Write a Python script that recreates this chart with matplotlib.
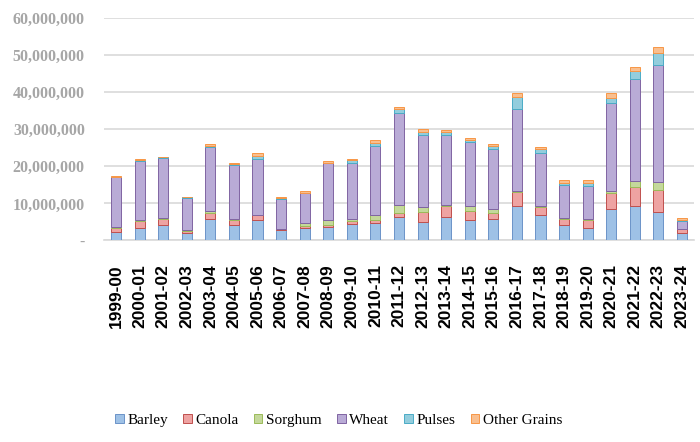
import numpy as np
import matplotlib
matplotlib.use("Agg")
import matplotlib.pyplot as plt
from matplotlib.ticker import FuncFormatter

years = ["1999-00", "2000-01", "2001-02", "2002-03", "2003-04", "2004-05",
         "2005-06", "2006-07", "2007-08", "2008-09", "2009-10", "2010-11",
         "2011-12", "2012-13", "2013-14", "2014-15", "2015-16", "2016-17",
         "2017-18", "2018-19", "2019-20", "2020-21", "2021-22", "2022-23",
         "2023-24"]

# values in millions of tonnes
barley = [2.3, 3.4, 4.1, 2.0, 5.9, 4.1, 5.5, 2.8, 3.4, 3.7, 4.4, 4.6, 6.4,
          5.0, 6.4, 5.5, 5.9, 9.3, 6.8, 4.3, 3.4, 8.6, 9.3, 7.7, 1.9]
canola = [1.1, 1.8, 1.6, 0.6, 1.4, 1.4, 1.3, 0.2, 0.5, 0.6, 0.8, 0.9, 1.0,
          2.7, 2.9, 2.5, 1.4, 3.8, 2.3, 1.6, 2.1, 4.1, 5.2, 5.9, 1.1]
sorghum = [0.2, 0.4, 0.3, 0.2, 0.7, 0.4, 0.2, 0.2, 0.9, 1.2, 0.6, 1.3, 2.1,
           1.4, 0.3, 1.3, 1.1, 0.2, 0.2, 0.1, 0.2, 0.6, 1.5, 2.2, 0.1]
wheat = [13.4, 15.9, 16.3, 8.7, 17.2, 14.4, 15.1, 8.0, 7.9, 15.3, 15.0, 18.7,
         24.8, 19.3, 18.8, 17.2, 16.4, 22.3, 14.2, 8.9, 9.0, 23.7, 27.7, 31.5,
         2.1]
pulses = [0.1, 0.1, 0.1, 0.1, 0.2, 0.2, 0.8, 0.3, 0.2, 0.2, 0.8, 0.8, 1.1,
          1.0, 1.0, 0.7, 0.7, 3.2, 1.2, 0.7, 0.8, 1.5, 2.1, 3.4, 0.4]
other = [0.3, 0.3, 0.2, 0.2, 0.5, 0.3, 0.6, 0.3, 0.5, 0.4, 0.4, 0.8, 0.7,
         0.6, 0.4, 0.5, 0.5, 1.0, 0.6, 0.7, 0.8, 1.2, 1.1, 1.6, 0.5]

series = [("Barley", barley, "#9ec1e6", "#6b93c8"),
          ("Canola", canola, "#eea3a2", "#c0504d"),
          ("Sorghum", sorghum, "#c4d89b", "#9bbb59"),
          ("Wheat", wheat, "#b9abd6", "#8064a2"),
          ("Pulses", pulses, "#93cddd", "#4bacc6"),
          ("Other Grains", other, "#f9bf8f", "#f79646")]

fig = plt.figure(figsize=(7, 4.42), dpi=100)
ax = fig.add_axes([0.149, 0.456, 0.842, 0.503])

x = np.arange(len(years))
bottom = np.zeros(len(years))
for name, vals, fc, ec in series:
    v = np.array(vals) * 1e6
    ax.bar(x, v, 0.43, bottom=bottom, color=fc, edgecolor=ec, linewidth=0.7,
           label=name, zorder=3)
    bottom += v

ax.set_xlim(-0.5, len(years) - 0.5)
ax.set_ylim(0, 60e6)
ax.set_yticks(np.arange(0, 60e6 + 1, 10e6))
ax.yaxis.set_major_formatter(FuncFormatter(
    lambda v, p: "-" if v == 0 else f"{v:,.0f}"))
ax.grid(axis="y", color="#d9d9d9", linewidth=1.2, zorder=0)
for s in ["top", "right", "left"]:
    ax.spines[s].set_visible(False)
ax.spines["bottom"].set_color("#d9d9d9")
ax.spines["bottom"].set_linewidth(1.2)
ax.tick_params(length=0)
ax.tick_params(axis="y", pad=14)
ax.tick_params(axis="x", pad=17)

for lab in ax.get_yticklabels():
    lab.set_family("Liberation Serif")
    lab.set_fontweight("bold")
    lab.set_fontsize(11.5)
    lab.set_color("#a6a6a6")

ax.set_xticks(x)
ax.set_xticklabels(years, rotation=90, fontsize=12.5, fontweight="bold",
                   family="Liberation Sans", color="black")

handles, labels = ax.get_legend_handles_labels()
fig.legend(handles, labels, loc="center", bbox_to_anchor=(0.484, 0.048),
           ncol=6, frameon=False, handlelength=0.55, handleheight=0.55,
           handletextpad=0.25, columnspacing=1.0,
           prop={"family": "Liberation Serif", "size": 11})

fig.savefig("out.png", dpi=100)
